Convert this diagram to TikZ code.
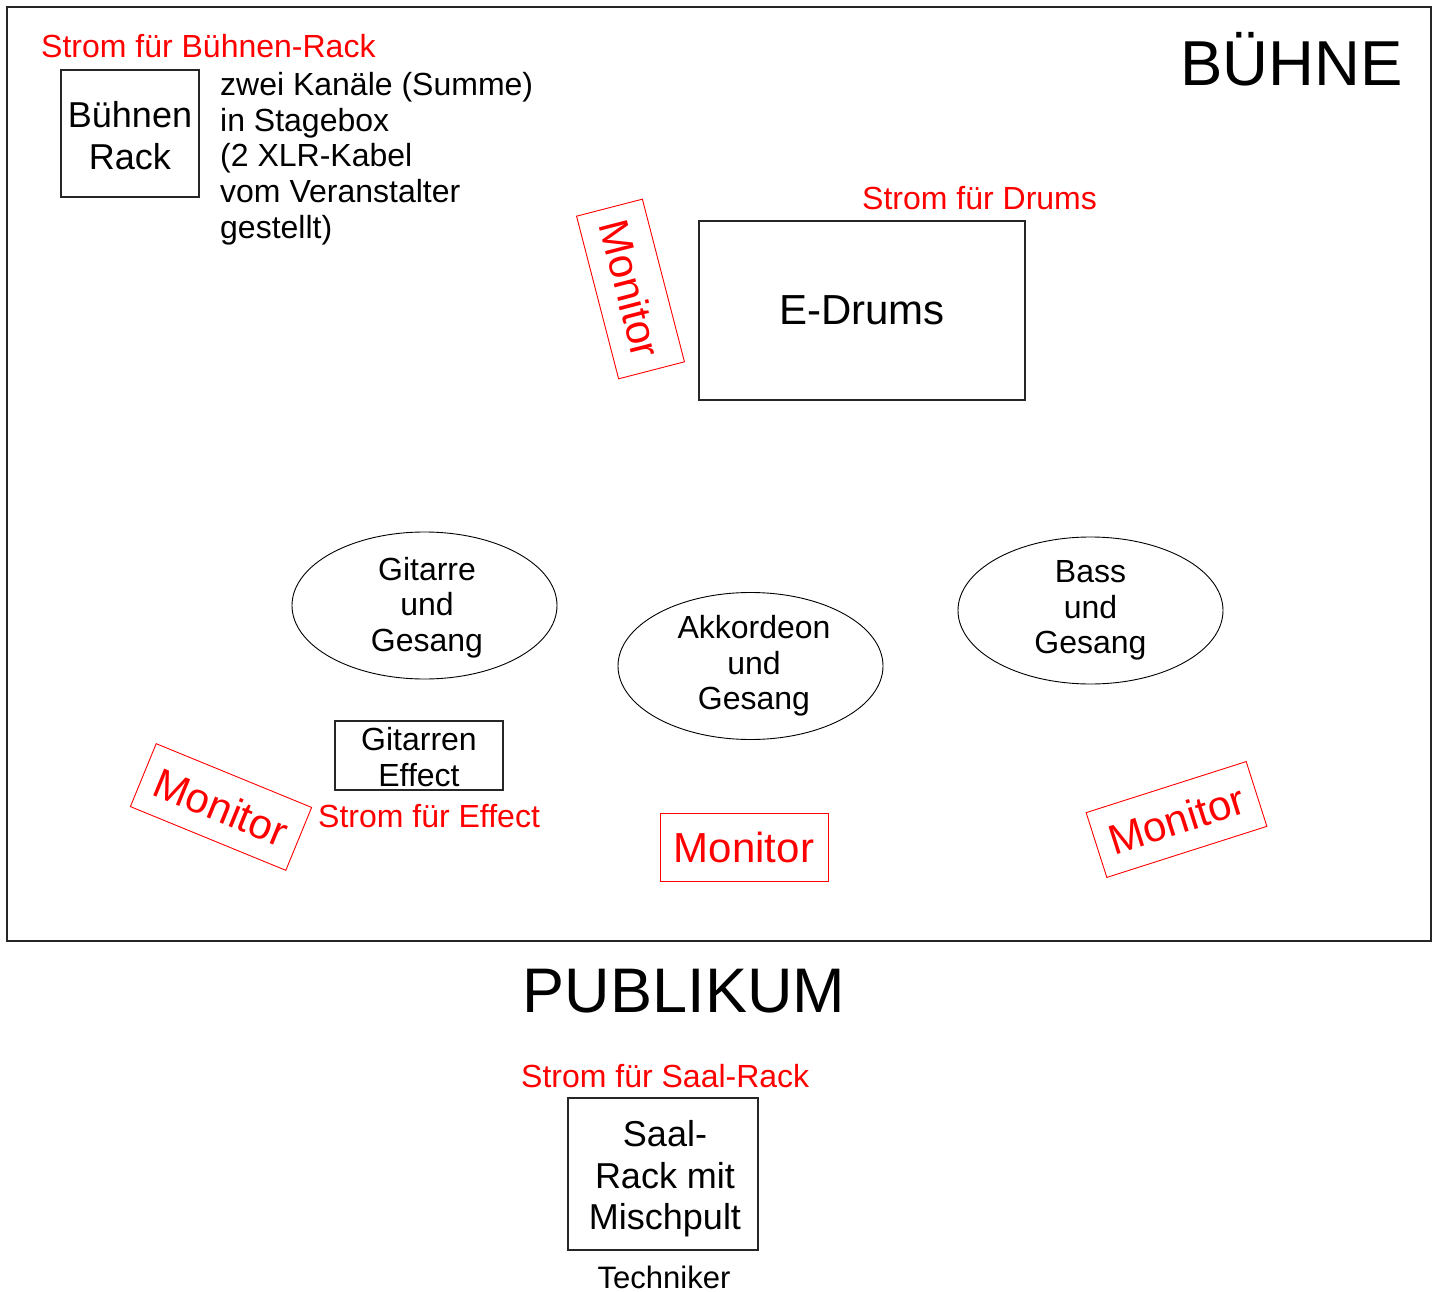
\documentclass[tikz,border=0pt]{standalone}
\usepackage{fontspec}
\setmainfont{Liberation Sans}
\usetikzlibrary{shapes.geometric}
\definecolor{monred}{RGB}{255,0,0}
\begin{document}
\begin{tikzpicture}[x=1pt,y=-1pt,
  box/.style={draw=black!85,line width=1.1pt,inner sep=0pt,align=center},
  player/.style={ellipse,draw=black,line width=0.9pt,inner sep=0pt,minimum width=265pt,minimum height=147pt,align=center,font=\fontsize{32}{35.7}\selectfont},
  monbox/.style={draw=monred,line width=0.9pt,text=monred,minimum width=168pt,minimum height=68pt,inner sep=0pt,font=\fontsize{42}{48}\selectfont},
  strom/.style={text=monred,inner sep=0pt,anchor=base west,font=\fontsize{32}{36}\selectfont},
  plain/.style={inner sep=0pt,font=\fontsize{32}{35.8}\selectfont}]
\useasboundingbox (0,0) rectangle (1436,1292);
\fill[white] (0,0) rectangle (1436,1292);
% stage
\node[draw=black!85,line width=1.1pt,minimum width=1424pt,minimum height=934pt,inner sep=0pt] (stage) at (719,474) {};
\node[anchor=base west,inner sep=0pt,font=\fontsize{63.5}{70}\selectfont] (buehne) at (1180,86) {BÜHNE};
% stage rack
\node[strom] (sbr) at (41,58) {Strom für Bühnen-Rack};
\node[box,minimum width=138pt,minimum height=127pt] (brack) at (130,133.5) {};
\node[inner sep=0pt,align=center,font=\fontsize{36}{42}\selectfont] (bracktxt) at ([yshift=-2pt]brack.center) {Bühnen\\Rack};
\node[plain,anchor=north west,align=left] (stagebox) at (220,72) {zwei Kanäle (Summe)\\in Stagebox\\(2 XLR-Kabel\\vom Veranstalter\\gestellt)};
% drums
\node[strom] (sdr) at (862,209.5) {Strom für Drums};
\node[box,minimum width=326pt,minimum height=179pt,font=\fontsize{42}{48}\selectfont] (drums) at (862,310.5) {E-Drums};
\node[monbox,rotate=-75.5] (mon1) at (630.5,289) {Monitor};
% players
\node[player] (git) at (424.5,605.5) {};
\node[inner sep=0pt,align=center,font=\fontsize{32}{35.7}\selectfont] (gittxt) at ([xshift=2.5pt,yshift=-2pt]git.center) {Gitarre\\und\\Gesang};
\node[player] (akk) at (750.5,666) {};
\node[inner sep=0pt,align=center,font=\fontsize{32}{35.7}\selectfont] (akktxt) at ([xshift=3.5pt]akk.center) {Akkordeon\\und\\Gesang};
\node[player] (bass) at (1090.5,610.5) {Bass\\und\\Gesang};
% effect
\node[box,minimum width=168pt,minimum height=69pt] (effect) at (419,755.5) {};
\node[inner sep=0pt,align=center,font=\fontsize{32}{36}\selectfont] (effecttxt) at ([yshift=-2pt]effect.center) {Gitarren\\Effect};
\node[strom] (sef) at (318,827) {Strom für Effect};
% monitors
\node[monbox,rotate=-22.3] (mon2) at (221,807) {Monitor};
\node[monbox] (mon3) at (744,847) {Monitor};
\node[monbox,rotate=17.7] (mon4) at (1176.5,819.5) {Monitor};
% audience
\node[anchor=base,inner sep=0pt,font=\fontsize{63}{70}\selectfont] (pub) at (684,1012) {PUBLIKUM};
\node[strom] (ssa) at (521,1087) {Strom für Saal-Rack};
\node[box,minimum width=190pt,minimum height=152pt] (saal) at (663,1174) {};
\node[inner sep=0pt,align=center,font=\fontsize{36}{41.5}\selectfont] (saaltxt) at ([xshift=2pt,yshift=-5pt]saal.center) {Saal-\\Rack mit\\Mischpult};
\node[anchor=base,inner sep=0pt,font=\fontsize{31}{36}\selectfont] (tech) at (664,1288) {Techniker};
\end{tikzpicture}
\end{document}
